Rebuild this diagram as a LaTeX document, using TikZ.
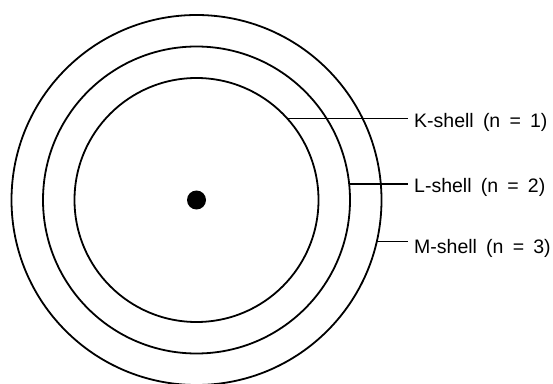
\documentclass[tikz,border=0pt]{standalone}
\usepackage{fontspec}
\newfontfamily\labfont[WordSpace=1.7]{Liberation Sans}
\begin{document}
\begin{tikzpicture}[x=1pt,y=1pt,
  shell/.style={circle, draw=black, line width=1.8pt, inner sep=0pt, outer sep=0pt},
  leader/.style={draw=black, line width=1.6pt},
  shelllabel/.style={anchor=base west, inner sep=0pt, font=\labfont\fontsize{19.5}{22}\selectfont}]
\useasboundingbox (0,0) rectangle (553,383);
\coordinate (c) at (196.5,183);
\node[shell, minimum size=244pt] (K) at (c) {};
\node[shell, minimum size=307pt] (L) at (c) {};
\node[shell, minimum size=370pt] (M) at (c) {};
\fill[black] (c) circle (9.5pt);
\coordinate (kend) at (408,265);
\coordinate (lend) at (408,200);
\coordinate (mend) at (408,140);
\node[shelllabel] (Klab) at (414,255) {K-shell (n = 1)};
\node[shelllabel] (Llab) at (414,190) {L-shell (n = 2)};
\node[shelllabel] (Mlab) at (414,130) {M-shell (n = 3)};
\draw[leader] (K.42.2) -- (K.42.2 -| kend);
\draw[leader] (L.6.36) -- (L.6.36 -| lend);
\draw[leader] (M.-13.4) -- (M.-13.4 -| mend);
\end{tikzpicture}
\end{document}
